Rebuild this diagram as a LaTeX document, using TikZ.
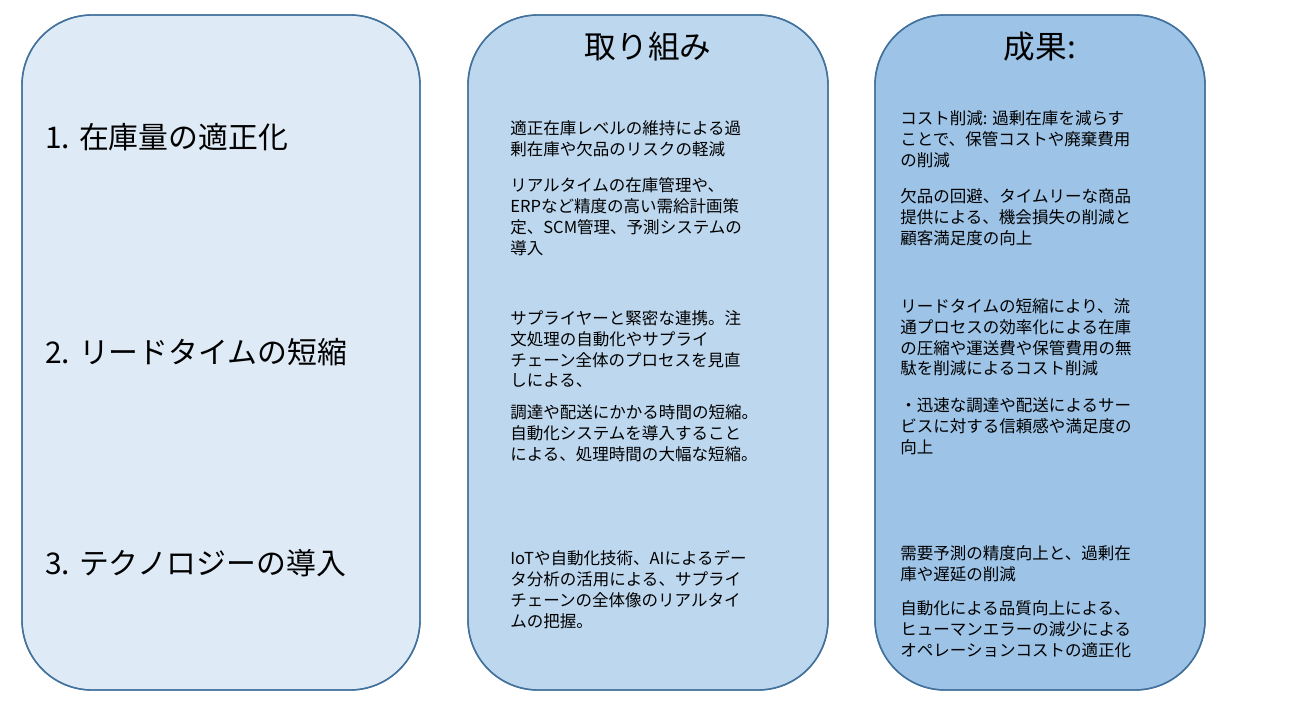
\documentclass[tikz,border=0pt]{standalone}
\usepackage{fontspec}
\setmainfont{Noto Sans CJK JP}
\definecolor{colA}{HTML}{DEEAF6}
\definecolor{colB}{HTML}{BDD7EE}
\definecolor{colC}{HTML}{9DC3E6}
\definecolor{edgeblue}{HTML}{41719C}
\tikzset{
  column/.style={draw=edgeblue, line width=0.8pt, rounded corners=1.4cm},
  body/.style={anchor=north west, align=left, inner sep=0pt, font=\fontsize{9.4}{11.9}\selectfont},
  topic/.style={anchor=west, inner sep=0pt, font=\fontsize{17}{20}\selectfont},
  head/.style={inner sep=0pt, font=\fontsize{18}{22}\selectfont}
}
\begin{document}
\begin{tikzpicture}[x=0.02cm, y=-0.02cm]

     \useasboundingbox (0, 0) rectangle (1299, 719);

     \fill [column, fill=colA] (22, 15) rectangle (420, 690);
     \fill [column, fill=colB] (468, 15) rectangle (828, 690);
     \fill [column, fill=colC] (875, 15) rectangle (1205, 690);
     \draw [column] (22, 15) rectangle (420, 690);
     \draw [column] (468, 15) rectangle (828, 690);
     \draw [column] (875, 15) rectangle (1205, 690);

     \node (H1) at (648, 47) [head] {取り組み};
     \node (H2) at (1040, 47) [head] {成果:};

     \node (T1) at (45, 137) [topic] {1. 在庫量の適正化};
     \node (T2) at (45, 352) [topic] {2. リードタイムの短縮};
     \node (T3) at (45, 563) [topic] {3. テクノロジーの導入};

     \node (M1) at (510, 120) [body] {適正在庫レベルの維持による過\\剰在庫や欠品のリスクの軽減};
     \node (M2) at (510, 177) [body] {リアルタイムの在庫管理や、\\ERPなど精度の高い需給計画策\\定、SCM管理、予測システムの\\導入};
     \node (M3) at (510, 310) [body] {サプライヤーと緊密な連携。注\\文処理の自動化やサプライ\\チェーン全体のプロセスを見直\\しによる、};
     \node (M4) at (510, 404) [body] {調達や配送にかかる時間の短縮。\\自動化システムを導入すること\\による、処理時間の大幅な短縮。};
     \node (M5) at (510, 550) [body] {IoTや自動化技術、AIによるデー\\タ分析の活用による、サプライ\\チェーンの全体像のリアルタイ\\ムの把握。};

     \node (R1) at (900, 110) [body] {コスト削減: 過剰在庫を減らす\\ことで、保管コストや廃棄費用\\の削減};
     \node (R2) at (900, 188) [body] {欠品の回避、タイムリーな商品\\提供による、機会損失の削減と\\顧客満足度の向上};
     \node (R3) at (900, 298) [body] {リードタイムの短縮により、流\\通プロセスの効率化による在庫\\の圧縮や運送費や保管費用の無\\駄を削減によるコスト削減};
     \node (R4) at (900, 397) [body] {・迅速な調達や配送によるサー\\ビスに対する信頼感や満足度の\\向上};
     \node (R5) at (900, 545) [body] {需要予測の精度向上と、過剰在\\庫や遅延の削減};
     \node (R6) at (900, 600) [body] {自動化による品質向上による、\\ヒューマンエラーの減少による\\オペレーションコストの適正化};

\end{tikzpicture}
\end{document}
